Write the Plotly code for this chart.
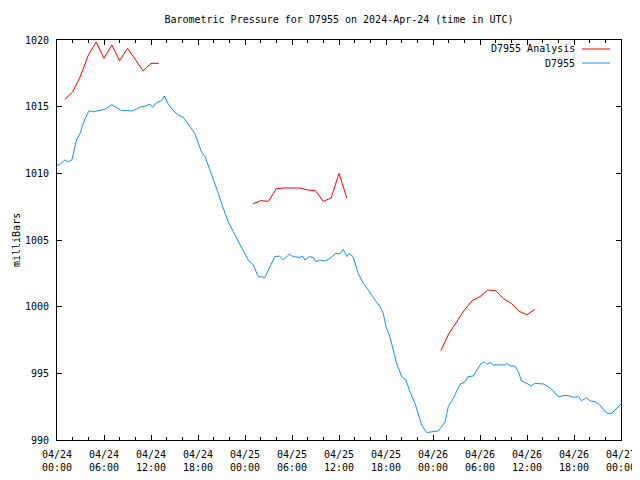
import datetime as dt
import plotly.graph_objects as go

# ---------------- data ----------------
start = dt.datetime(2024, 4, 24, 0, 0)

# D7955 observations: hours since 2024-04-24 00:00 UTC, pressure (mb)
obs_hours = [0.0, 0.3, 1.0, 1.45, 1.9, 2.1, 2.5, 2.95, 3.35, 3.8, 4.1, 4.65, 5.5, 6.1,
             7.0, 7.6, 8.25, 8.9, 9.55, 10.2, 10.8, 11.35, 11.85, 12.2, 12.7, 13.35,
             13.7, 14.2, 14.85, 15.5, 16.1, 16.55, 17.2, 17.6, 18.05, 18.45, 18.9,
             19.3, 19.75, 20.15, 20.6, 21.0, 21.45, 21.85, 22.5, 23.15, 23.8, 24.4,
             25.05, 25.7, 26.55, 27.2, 27.8, 28.4, 28.9, 29.65, 30.15, 31.0, 31.35,
             31.65, 32.2, 32.7, 33.05, 33.55, 34.2, 34.85, 35.6, 36.1, 36.55, 37.0,
             37.3, 37.8, 38.15, 38.45, 39.1, 39.75, 40.6, 41.25, 41.65, 42.0, 42.5,
             42.95, 43.35, 44.0, 44.55, 45.05, 45.7, 46.1, 46.55, 47.2, 48.0, 48.7,
             49.55, 49.95, 50.6, 51.45, 52.1, 52.45, 53.15, 54.0, 54.5, 54.85, 55.35,
             55.7, 57.2, 57.5, 57.85, 58.45, 58.9, 59.3, 59.95, 60.6, 61.0, 62.1,
             62.7, 63.35, 64.0, 64.65, 65.3, 65.9, 66.55, 66.95, 67.6, 68.05, 68.7,
             69.3, 69.75, 70.2, 70.8, 71.6, 72.0]
obs_values = [1010.63, 1010.63, 1011.0, 1010.87, 1011.0, 1011.5, 1012.5, 1013.0, 1013.75,
              1014.38, 1014.7, 1014.62, 1014.75, 1014.8, 1015.15, 1014.92, 1014.7,
              1014.71, 1014.68, 1014.83, 1015.0, 1015.05, 1015.2, 1014.95, 1015.3,
              1015.45, 1015.8, 1015.2, 1014.7, 1014.38, 1014.2, 1013.87, 1013.38,
              1013.0, 1012.25, 1011.62, 1011.25, 1010.63, 1009.88, 1009.25, 1008.5,
              1007.75, 1007.0, 1006.37, 1005.63, 1004.87, 1004.13, 1003.5, 1003.13,
              1002.25, 1002.2, 1003.0, 1003.75, 1003.8, 1003.5, 1003.93, 1003.75,
              1003.7, 1003.8, 1003.5, 1003.75, 1003.7, 1003.37, 1003.5, 1003.42,
              1003.62, 1004.0, 1003.95, 1004.3, 1003.75, 1004.0, 1003.75, 1003.13,
              1002.5, 1001.75, 1001.25, 1000.5, 1000.0, 999.5, 998.5, 997.75, 996.75,
              995.75, 994.75, 994.5, 993.62, 992.75, 992.0, 991.13, 990.56, 990.6,
              990.68, 991.37, 992.5, 993.13, 994.18, 994.37, 994.75, 994.8, 995.63,
              995.87, 995.68, 995.8, 995.63, 995.63, 995.74, 995.55, 995.55, 995.12,
              994.43, 994.25, 994.05, 994.25, 994.2, 994.0, 993.68, 993.25, 993.33,
              993.33, 993.2, 993.25, 992.95, 993.17, 992.93, 992.87, 992.63, 992.3,
              992.0, 992.0, 992.5, 992.7]

# D7955 Analysis: three forecast runs (None = gap between runs)
ana_hours = [1, 2, 3, 4, 5, 6, 7, 8, 9, 10, 11, 12, 13, None,
             25, 26, 27, 28, 29, 30, 31, 32, 33, 34, 35, 36, 37, None,
             49, 50, 51, 52, 53, 54, 55, 56, 57, 58, 59, 60, 61]
ana_values = [1015.55, 1016.1, 1017.3, 1018.87, 1019.85, 1018.63, 1019.63, 1018.45,
              1019.38, 1018.5, 1017.68, 1018.25, 1018.25, None,
              1007.7, 1007.95, 1007.9, 1008.85, 1008.9, 1008.9, 1008.9, 1008.75,
              1008.7, 1007.9, 1008.15, 1010.0, 1008.15, None,
              996.7, 997.95, 998.85, 999.75, 1000.45, 1000.75, 1001.25, 1001.2,
              1000.6, 1000.25, 999.65, 999.4, 999.8]

y_ticks = [990, 995, 1000, 1005, 1010, 1015, 1020]

RED = "#ff0000"
BLUE = "#1a8cff"
FONT = "DejaVu Sans Mono"
FS = 10

# page body has an 8px margin, so the figure is 8px smaller than the window
W, H = 632, 472


def to_time(hours):
    return [None if h is None else start + dt.timedelta(hours=h) for h in hours]


fig = go.Figure()
fig.add_trace(go.Scatter(x=to_time(ana_hours), y=ana_values, mode="lines",
                         name="D7955 Analysis", line=dict(color=RED, width=1),
                         connectgaps=False))
fig.add_trace(go.Scatter(x=to_time(obs_hours), y=obs_values, mode="lines",
                         name="D7955", line=dict(color=BLUE, width=1)))

fig.update_layout(
    width=W, height=H,
    margin=dict(l=49, r=19, t=32, b=40, autoexpand=False),
    paper_bgcolor="white", plot_bgcolor="white",
    font=dict(family=FONT, size=FS, color="black"),
    showlegend=False,
    title=dict(text="Barometric Pressure for D7955 on 2024-Apr-24 (time in UTC)",
               xref="paper", x=0.5, xanchor="center",
               yref="container", y=1 - 11 / H, yanchor="middle",
               font=dict(family=FONT, size=FS, color="black")),
    xaxis=dict(type="date",
               range=[start, start + dt.timedelta(hours=72)],
               tick0=start, dtick=6 * 3600 * 1000,
               tickformat="%m/%d<br>%H:%M",
               ticks="inside", ticklen=5, tickcolor="black",
               ticklabelstandoff=5,
               showline=True, linecolor="black", linewidth=1, mirror="allticks",
               showgrid=False, zeroline=False,
               minor=dict(dtick=2 * 3600 * 1000, ticks="inside", ticklen=3,
                          tickcolor="black", showgrid=False),
               tickfont=dict(family=FONT, size=FS, color="black")),
    yaxis=dict(range=[990, 1020], tickvals=y_ticks,
               ticktext=[str(v) for v in y_ticks],
               ticks="inside", ticklen=5, tickcolor="black",
               ticklabelstandoff=5,
               showline=True, linecolor="black", linewidth=1, mirror="allticks",
               showgrid=False, zeroline=False,
               tickfont=dict(family=FONT, size=FS, color="black")),
)

# y axis label (kept inside the figure's left edge)
fig.add_annotation(text="milliBars", xref="paper", yref="paper",
                   x=(16 - 57) / 564, y=0.5, textangle=-90, showarrow=False,
                   xanchor="center", yanchor="middle",
                   font=dict(family=FONT, size=FS, color="black"))

# gnuplot-style key (text right-aligned, sample line to the right)
key = [("D7955 Analysis", RED, 49), ("D7955", BLUE, 63)]
for label, color, ypx in key:
    yp = (440 - ypx) / 400
    fig.add_annotation(text=label, xref="paper", yref="paper",
                       x=(577 - 57) / 564, y=yp, xanchor="right", yanchor="middle",
                       showarrow=False, font=dict(family=FONT, size=FS, color="black"))
    fig.add_shape(type="line", xref="paper", yref="paper",
                  x0=(582 - 57) / 564, x1=(610 - 57) / 564, y0=yp, y1=yp,
                  line=dict(color=color, width=1))

fig.write_html("out.html")
